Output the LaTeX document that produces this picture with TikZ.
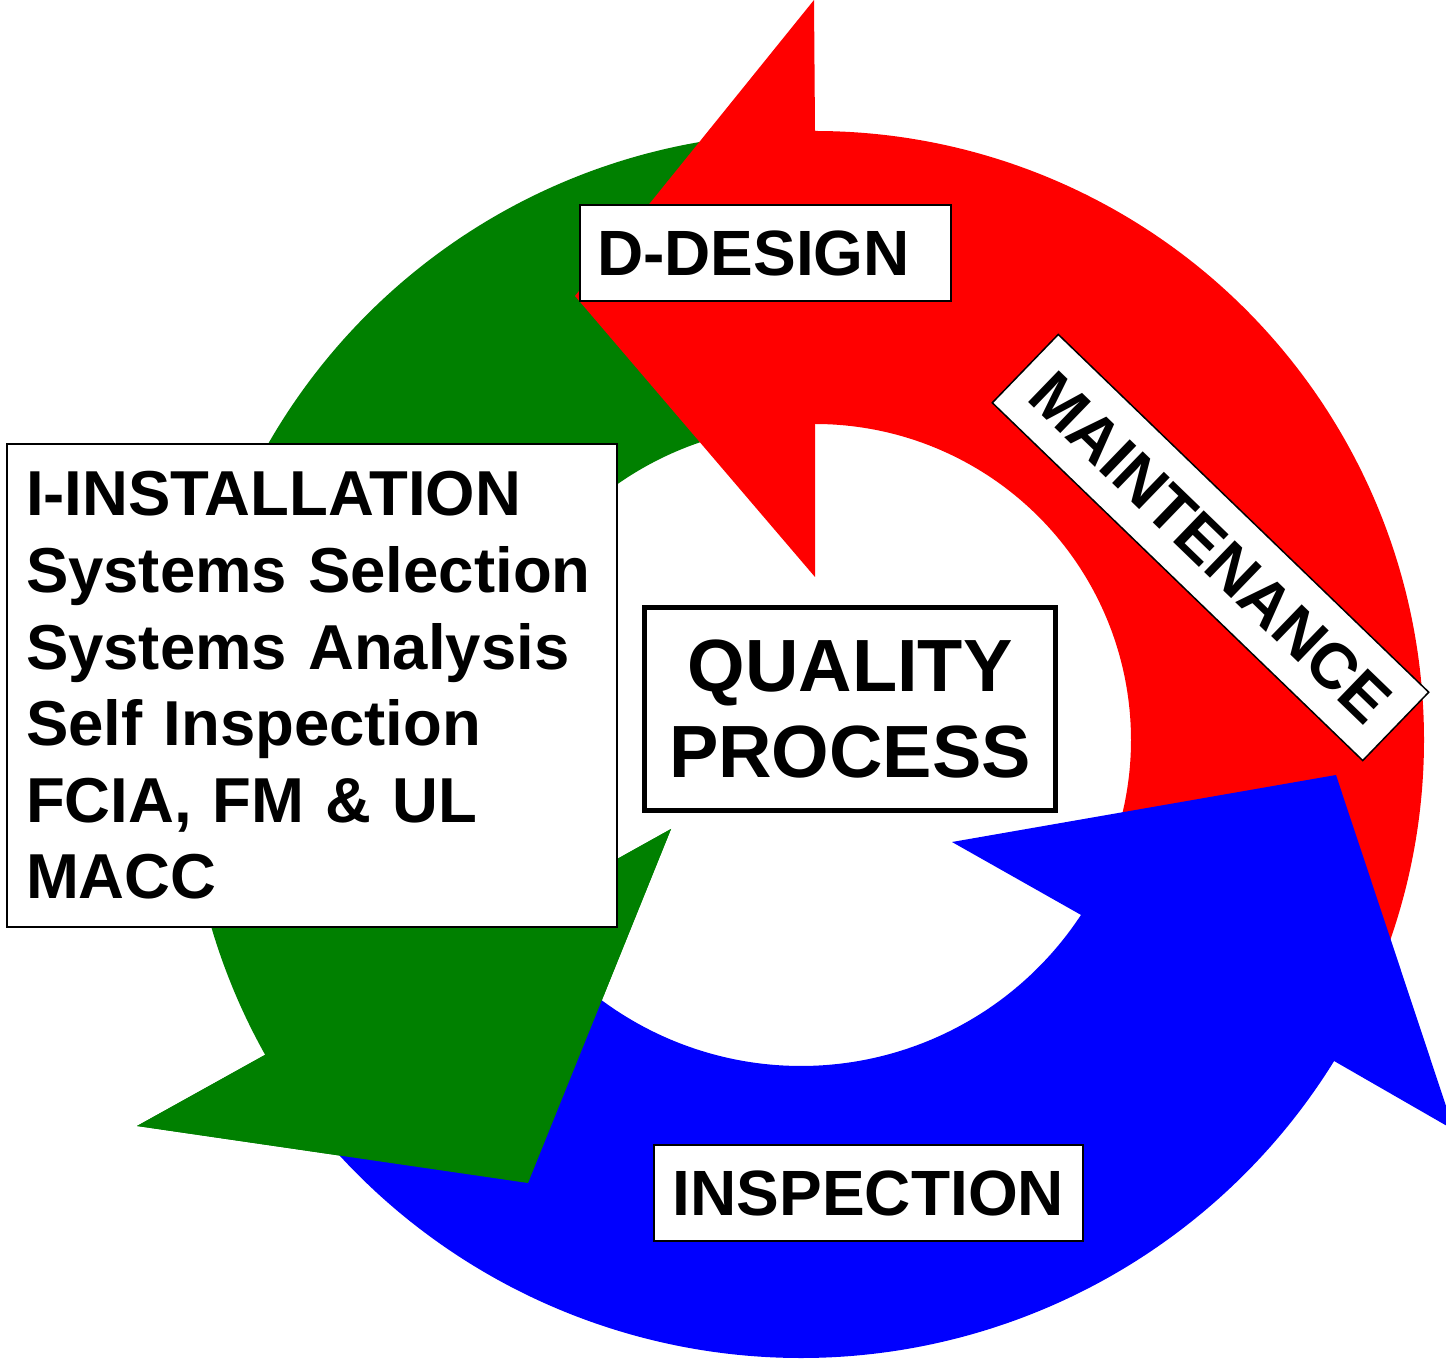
\documentclass[tikz,border=0pt]{standalone}
\usepackage{fontspec}
\setmainfont{Liberation Sans}
\usetikzlibrary{calc}
\definecolor{arrred}{RGB}{255,0,0}
\definecolor{arrgreen}{RGB}{0,128,0}
\definecolor{arrblue}{RGB}{0,0,255}
\newcommand{\lblfont}{\fontsize{64}{76.6}\selectfont\bfseries}
\newcommand{\instfont}{\fontsize{63.5}{76.6}\selectfont\bfseries}
\newcommand{\bigfont}{\fontsize{74}{86}\selectfont\bfseries}
\begin{document}
\begin{tikzpicture}[x=1pt,y=1pt,
  box/.style={draw=black, fill=white, line width=2pt, inner sep=0pt, font=\lblfont}]
\useasboundingbox (0,0) rectangle (1446,1361);
\clip (0,0) rectangle (1446,1361);
\fill[white] (0,0) rectangle (1446,1361);
\coordinate (Cr) at (815,621);
\coordinate (Cg) at (805,609);
\coordinate (Cb) at (801,630);
% green arrow
\fill[arrgreen] ($(Cg)+(98:619pt)$) arc[start angle=98,end angle=209.3,radius=619pt]
  -- (137,235) -- (528,178) -- (671,532)
  -- ($(Cg)+(209.5:327pt)$) arc[start angle=209.5,end angle=98,radius=327pt] -- cycle;
% red arrow
\fill[arrred] ($(Cr)+(-25:609pt)$) arc[start angle=-25,end angle=90,radius=609pt]
  -- (814,1361) -- (575,1065) -- (815,784)
  -- ($(Cr)+(90:316pt)$) arc[start angle=90,end angle=-25,radius=316pt] -- cycle;
% blue arrow
\fill[arrblue] ($(Cb)+(218:627pt)$) arc[start angle=218,end angle=328.24,radius=627pt]
  -- (1454,231) -- (1336,586) -- (952,519)
  -- ($(Cb)+(326.7:335pt)$) arc[start angle=326.7,end angle=218,radius=335pt] -- cycle;
% green head over blue tail
\fill[arrgreen] (137,235) -- (528,178) -- (671,532) -- cycle;
% labels
\node[box, minimum width=371pt, minimum height=96pt, text width=337pt, inner xsep=17pt, align=left] (design) at (765.5,1108) {D-DESIGN};
\node[box, font=\instfont, minimum width=610pt, minimum height=483pt, text width=572pt, inner xsep=19pt, align=left] (install) at (312,675.5)
  {I-INSTALLATION\\Systems Selection\\Systems Analysis\\Self Inspection\\FCIA, FM \& UL\\MACC};
\node[box, line width=5pt, font=\bigfont, minimum width=411pt, minimum height=203pt, align=center] (quality) at (850,652) {QUALITY\\PROCESS};
\node[box, minimum width=429pt, minimum height=96pt] (inspect) at (868.5,168) {INSPECTION};
\node[box, line width=1.5pt, rotate=-44, minimum width=515pt, minimum height=95pt] (maint) at (1210.5,813.5) {MAINTENANCE};
\end{tikzpicture}
\end{document}
